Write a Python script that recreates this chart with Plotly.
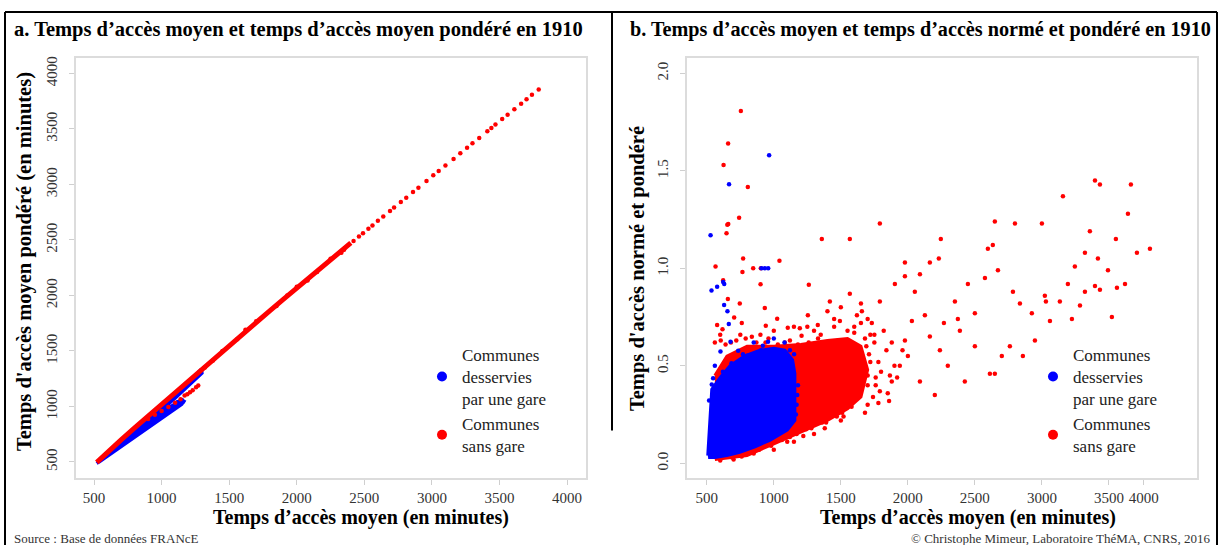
import plotly.graph_objects as go

# ---------------- DATA ----------------
legend_names = ["Communes<br>desservies<br>par une gare", "Communes<br>sans gare"]
series_colors = ["#0000ff", "#ff0000"]

x_ticks_a = [500, 1000, 1500, 2000, 2500, 3000, 3500, 4000]
x_ticktext_a = ["500", "1000", "1500", "2000", "2500", "3000", "3500", "4000"]
y_ticks_a = [500, 1000, 1500, 2000, 2500, 3000, 3500, 4000]
x_ticks_b = [500, 1000, 1500, 2000, 2500, 3000, 3500, 3760]
x_ticktext_b = ["500", "1000", "1500", "2000", "2500", "3000", "3500", "4000"]
y_ticks_b = [0.0, 0.5, 1.0, 1.5, 2.0]
y_ticktext_b = ["0.0", "0.5", "1.0", "1.5", "2.0"]

# Panel a : red dense line (upper edge)
a_red_line_x = [520, 600, 700, 800, 900, 1000, 1100, 1200, 1300, 1400, 1500, 1600, 1700, 1800, 1900, 2000, 2100, 2200, 2300, 2400]
a_red_line_y = [497, 592, 699, 806, 913, 1020, 1127, 1235, 1342, 1448, 1552, 1656, 1759, 1862, 1964, 2066, 2168, 2270, 2372, 2473]
# Panel a : red sparse points along the line
a_red_pts_x = [2420, 2460, 2490, 2530, 2560, 2600, 2640, 2690, 2720, 2770, 2810, 2860, 2900, 2960, 3010, 3050, 3100, 3160,
               3210, 3260, 3300, 3350, 3410, 3440, 3470, 3520, 3560, 3610, 3660, 3700, 3740, 3790,
               1320, 1450, 1560, 1700, 1850, 2000, 2150, 2250, 2350, 1380, 1620, 1930, 2080, 2330,
               900, 950, 1000, 1050, 1100, 1140, 1190, 1230, 1271, 1255, 1170, 1210]
a_red_pts_y = [2490, 2532, 2560, 2602, 2630, 2672, 2712, 2760, 2792, 2842, 2880, 2932, 2971, 3030, 3082, 3121, 3170, 3230,
               3280, 3330, 3370, 3419, 3480, 3508, 3540, 3590, 3628, 3678, 3728, 3768, 3808, 3855,
               1352, 1500, 1605, 1768, 1905, 2078, 2212, 2330, 2412, 1415, 1690, 2000, 2135, 2385,
               888, 925, 960, 996, 1033, 1065, 1110, 1145, 1189, 1172, 1098, 1128]
# Panel a : blue dense wedge outline
a_blue_poly_x = [520, 600, 700, 800, 900, 1000, 1100, 1200, 1297, 1300, 1200, 1100, 1000, 920, 900,
                 1000, 1100, 1150, 1165, 1150, 1000, 865, 700, 540, 520]
a_blue_poly_y = [488, 584, 690, 796, 903, 1010, 1117, 1225, 1332, 1300, 1182, 1072, 967, 897, 882,
                 950, 1025, 1050, 1045, 1019, 890, 775, 632, 500, 488]
# Panel a : blue points at the wedge ends
a_blue_pts_x = [1240, 1265, 1280, 1290, 1150, 1160, 1140, 1120]
a_blue_pts_y = [1262, 1290, 1312, 1325, 1058, 1045, 1050, 1040]

# Panel b : red dense cloud outline
b_red_poly_x = [560, 800, 1000, 1200, 1400, 1550, 1650, 1700, 1650, 1550, 1400, 1200, 1000, 800, 650, 560]
b_red_poly_y = [0.02, 0.04, 0.1, 0.16, 0.22, 0.28, 0.34, 0.48, 0.6, 0.64, 0.63, 0.61, 0.6, 0.6, 0.55, 0.45]
# Panel b : red scattered points
b_red_pts_x = [754, 659, 625, 806, 741, 653, 660, 647, 771, 565, 766, 846, 903, 1042, 901, 622, 933, 746, 657, 1025,
               577, 704, 761, 940, 1104, 617, 1194, 1261, 604, 836, 938, 1082, 1207, 1358, 1791, 1567,
               3000, 3157, 3396, 3433, 3664, 3642, 3806, 3709, 3552, 3358, 3321, 3418, 3246, 3194, 3321, 3396,
               3433, 3560, 3620, 3493, 3134, 3022, 3030, 3224, 3284, 3522, 2925, 2836, 2784, 2672, 2597, 2634,
               2649, 2799, 2575, 2448, 2351, 2373, 2500, 2612, 2649, 2500, 2388, 2239, 2164, 2052, 2090, 2164,
               1978, 1903, 1791, 1731, 1657, 1567, 1493, 1418, 1328, 1254, 2030, 2127, 2269, 1978, 2298, 2425,
               2090, 2201, 2701, 2761, 2948, 2858, 3060, 1791, 1866, 1940, 2246, 2231, 1978,
               1300, 1450, 1600, 1750, 1880, 1900, 1880, 1850, 1700, 1500, 1300, 1150, 1000, 850, 700, 600,
               560, 600, 680, 750, 900, 1000, 1150, 1820, 1700, 1960, 2000, 1650, 1400,
               1250, 1350, 1450, 1550, 1650, 1720, 1840, 1860, 1920, 1780, 1680, 1520, 1380, 1220, 1100, 1500, 1620,
               1700, 1720, 1760, 1690, 1740, 1800, 1660, 1710,
               640, 720, 790, 870, 960, 1030, 1120, 1180, 1260, 1330, 1410, 1480, 1540, 1600, 1630, 1680, 1700, 1610, 1580,
               1470, 1360, 1280, 1170, 1060, 980, 890, 820, 760, 690, 1120, 1240, 1390, 1510,
               1600, 1680, 1750, 1780, 1760]
b_red_pts_y = [1.807, 1.64, 1.53, 1.417, 1.259, 1.224, 1.228, 1.18, 1.051, 1.01, 0.981, 1.0, 1.0, 1.039, 0.918, 0.939, 0.797, 0.82, 0.843, 0.742,
               0.71, 0.748, 0.72, 0.705, 0.695, 0.688, 0.693, 0.916, 0.63, 0.649, 0.62, 0.62, 0.654, 1.15, 1.23, 1.15,
               1.23, 1.37, 1.45, 1.43, 1.43, 1.28, 1.10, 1.08, 1.15, 1.19, 1.08, 1.05, 1.01, 0.92, 0.88, 0.91,
               0.89, 0.9, 0.92, 0.99, 0.83, 0.86, 0.83, 0.74, 0.81, 0.75, 0.77, 0.82, 0.88, 0.99, 1.1, 1.12,
               1.24, 1.23, 0.95, 0.92, 0.83, 0.74, 0.77, 0.46, 0.46, 0.6, 0.68, 0.58, 0.65, 0.88, 0.97, 1.03,
               0.96, 0.92, 0.83, 0.72, 0.78, 0.87, 0.73, 0.83, 0.71, 0.76, 0.73, 0.76, 0.72, 0.63, 0.5, 0.42,
               0.42, 0.35, 0.55, 0.6, 0.63, 0.55, 0.73, 0.37, 0.45, 0.5, 1.15, 1.05, 1.03,
               0.68, 0.7, 0.7, 0.66, 0.62, 0.5, 0.42, 0.36, 0.3, 0.22, 0.15, 0.11, 0.07, 0.05, 0.02, 0.015,
               0.62, 0.66, 0.62, 0.66, 0.66, 0.68, 0.7, 0.68, 0.74, 0.58, 0.55, 0.82, 0.78,
               0.7, 0.66, 0.74, 0.68, 0.72, 0.66, 0.58, 0.32, 0.44, 0.31, 0.26, 0.24, 0.18, 0.14, 0.11, 0.8, 0.76,
               0.45, 0.52, 0.4, 0.6, 0.34, 0.47, 0.42, 0.56,
               0.61, 0.63, 0.64, 0.62, 0.64, 0.61, 0.63, 0.61, 0.62, 0.64, 0.61, 0.63, 0.6, 0.57, 0.53, 0.48, 0.4, 0.33, 0.29,
               0.24, 0.21, 0.18, 0.15, 0.12, 0.09, 0.07, 0.055, 0.035, 0.03, 0.135, 0.175, 0.21, 0.26,
               0.67, 0.64, 0.62, 0.52, 0.44]
# Panel b : blue dense blob outline
b_blue_poly_x = [507, 537, 600, 672, 780, 896, 1000, 1082, 1140, 1157, 1157, 1100, 970, 860, 746, 650, 560, 510]
b_blue_poly_y = [0.04, 0.38, 0.44, 0.5, 0.55, 0.58, 0.59, 0.58, 0.53, 0.46, 0.22, 0.17, 0.118, 0.085, 0.056, 0.04, 0.03, 0.03]
# Panel b : blue scattered points
b_blue_pts_x = [965, 666, 528, 908, 933, 958, 622, 630, 577, 535, 629, 654, 664, 677, 602, 957, 918, 905, 799, 770,
                734, 1151, 547, 537, 684, 517, 560, 620, 850, 1000, 1080, 1120, 1180, 1170, 1175, 1165]
b_blue_pts_y = [1.58, 1.432, 1.17, 1.0, 1.0, 1.0, 0.93, 0.92, 0.906, 0.887, 0.812, 0.78, 0.714, 0.623, 0.574, 0.623, 0.603, 0.58, 0.552, 0.56,
                0.577, 0.56, 0.436, 0.404, 0.513, 0.322, 0.5, 0.47, 0.62, 0.64, 0.62, 0.58, 0.4, 0.3, 0.35, 0.25]

# ---------------- FIGURE ----------------
W, H = 1221, 545
SERIF = "Liberation Serif, Times New Roman, serif"
BLUE, RED = series_colors
MS = 4.5

fig = go.Figure()

for leg in ["legend", "legend2"]:
    for name, col in zip(legend_names, series_colors):
        fig.add_trace(go.Scatter(x=[None], y=[None], mode="markers", name=name,
                                 marker=dict(color=col, size=10), legend=leg,
                                 xaxis="x" if leg == "legend" else "x2",
                                 yaxis="y" if leg == "legend" else "y2"))

# panel a
fig.add_trace(go.Scatter(x=a_blue_poly_x, y=a_blue_poly_y, mode="lines", fill="toself",
                         fillcolor=BLUE, line=dict(color=BLUE, width=3), showlegend=False,
                         xaxis="x", yaxis="y", hoverinfo="skip"))
fig.add_trace(go.Scatter(x=a_blue_pts_x, y=a_blue_pts_y, mode="markers",
                         marker=dict(color=BLUE, size=MS), showlegend=False, xaxis="x", yaxis="y"))
fig.add_trace(go.Scatter(x=a_red_line_x, y=a_red_line_y, mode="lines",
                         line=dict(color=RED, width=5), showlegend=False, xaxis="x", yaxis="y"))
fig.add_trace(go.Scatter(x=a_red_pts_x, y=a_red_pts_y, mode="markers",
                         marker=dict(color=RED, size=MS), showlegend=False, xaxis="x", yaxis="y"))

# panel b
fig.add_trace(go.Scatter(x=b_red_poly_x, y=b_red_poly_y, mode="lines", fill="toself",
                         fillcolor=RED, line=dict(color=RED, width=3), showlegend=False,
                         xaxis="x2", yaxis="y2", hoverinfo="skip"))
fig.add_trace(go.Scatter(x=b_red_pts_x, y=b_red_pts_y, mode="markers",
                         marker=dict(color=RED, size=MS), showlegend=False, xaxis="x2", yaxis="y2"))
fig.add_trace(go.Scatter(x=b_blue_poly_x, y=b_blue_poly_y, mode="lines", fill="toself",
                         fillcolor=BLUE, line=dict(color=BLUE, width=3), showlegend=False,
                         xaxis="x2", yaxis="y2", hoverinfo="skip"))
fig.add_trace(go.Scatter(x=b_blue_pts_x, y=b_blue_pts_y, mode="markers",
                         marker=dict(color=BLUE, size=MS), showlegend=False, xaxis="x2", yaxis="y2"))

def px(x):
    return x / W

def py(y):
    return 1 - y / H

axis_common = dict(showgrid=False, zeroline=False, showline=True, mirror=True,
                   linecolor="#dcdcdc", linewidth=1.5, ticks="outside", ticklen=5,
                   tickcolor="#cfcfcf", tickwidth=1,
                   tickfont=dict(family=SERIF, size=15, color="#333333"))

ydom = [py(477.7), py(56)]
fig.update_layout(
    width=W, height=H, margin=dict(l=0, r=0, t=0, b=0),
    paper_bgcolor="white", plot_bgcolor="white",
    xaxis=dict(domain=[px(75.8), px(586)], range=[365, 4140], tickvals=x_ticks_a,
               ticktext=x_ticktext_a, anchor="y", ticklabelstandoff=0, **axis_common),
    yaxis=dict(domain=ydom, range=[356, 4141], tickvals=y_ticks_a, tickangle=-90,
               anchor="x", ticklabelstandoff=6, **axis_common),
    xaxis2=dict(domain=[px(686.7), px(1196.7)], range=[350, 4155], tickvals=x_ticks_b,
                ticktext=x_ticktext_b, anchor="y2", ticklabelstandoff=0, **axis_common),
    yaxis2=dict(domain=ydom, range=[-0.075, 2.08], tickvals=y_ticks_b, ticktext=y_ticktext_b,
                tickangle=-90, anchor="x2", ticklabelstandoff=6, **axis_common),
    legend=dict(x=px(422), y=py(336), xanchor="left", yanchor="top", bgcolor="rgba(0,0,0,0)",
                font=dict(family=SERIF, size=17, color="#222222"), valign="middle",
                tracegroupgap=4, itemwidth=30),
    legend2=dict(x=px(1033), y=py(336), xanchor="left", yanchor="top", bgcolor="rgba(0,0,0,0)",
                 font=dict(family=SERIF, size=17, color="#222222"), valign="middle",
                 tracegroupgap=4, itemwidth=30),
    showlegend=True,
)

annotations = [
    dict(text="<b>a. Temps d’accès moyen et temps d’accès moyen pondéré en 1910</b>",
         x=px(12), y=py(28), xanchor="left", yanchor="middle", font=dict(size=20.5)),
    dict(text="<b>b. Temps d’accès moyen et temps d’accès normé et pondéré en 1910</b>",
         x=px(1213), y=py(28), xanchor="right", yanchor="middle", font=dict(size=20.2)),
    dict(text="<b>Temps d’accès moyen (en minutes)</b>", x=px(361), y=py(517),
         xanchor="center", yanchor="middle", font=dict(size=20)),
    dict(text="<b>Temps d’accès moyen (en minutes)</b>", x=px(968), y=py(517),
         xanchor="center", yanchor="middle", font=dict(size=20)),
    dict(text="<b>Temps d'accès moyen pondéré (en minutes)</b>", x=px(24), y=py(261),
         xanchor="center", yanchor="middle", textangle=-90, font=dict(size=20.5)),
    dict(text="<b>Temps d'accès normé et pondéré</b>", x=px(637), y=py(268),
         xanchor="center", yanchor="middle", textangle=-90, font=dict(size=20.5)),
    dict(text="Source : Base de données FRANcE", x=px(12), y=py(538),
         xanchor="left", yanchor="middle", font=dict(size=13, color="#333333")),
    dict(text="© Christophe Mimeur, Laboratoire ThéMA, CNRS, 2016", x=px(1213), y=py(538),
         xanchor="right", yanchor="middle", font=dict(size=13, color="#333333")),
]
for a in annotations:
    a.update(xref="paper", yref="paper", showarrow=False)
    a["font"] = dict(family=SERIF, color=a["font"].get("color", "black"), size=a["font"]["size"])
fig.update_layout(annotations=annotations)

shapes = [
    dict(type="line", x0=px(5), x1=px(5), y0=py(10), y1=py(545)),
    dict(type="line", x0=px(5), x1=px(1217), y0=py(10), y1=py(10)),
    dict(type="line", x0=px(1217), x1=px(1217), y0=py(10), y1=py(545)),
    dict(type="line", x0=px(612), x1=px(612), y0=py(10), y1=py(430)),
]
for s in shapes:
    s.update(xref="paper", yref="paper", line=dict(color="black", width=2))
fig.update_layout(shapes=shapes)

fig.write_html("out.html", config={"displayModeBar": False},
               post_script="document.body.style.margin='0';document.body.style.overflow='hidden';")
